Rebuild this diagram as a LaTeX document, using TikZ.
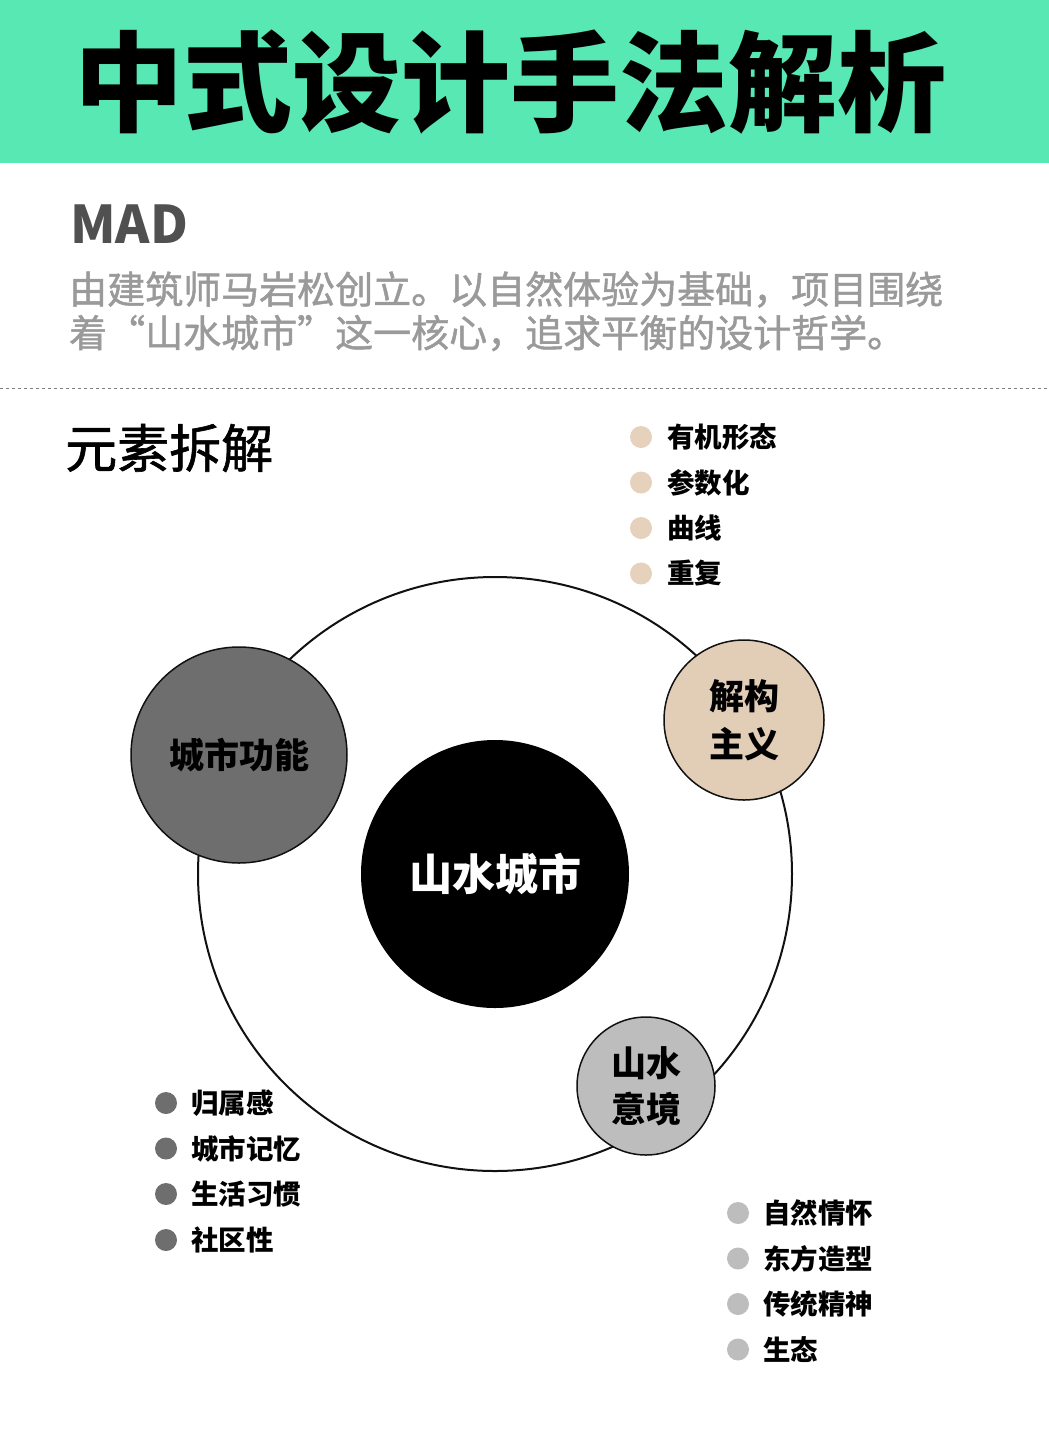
\documentclass[tikz,border=0pt]{standalone}
\usepackage{fontspec}
\setmainfont{Noto Sans CJK SC}
\newfontfamily\medfont[FakeBold=1.2]{Noto Sans CJK SC}
\definecolor{headgreen}{HTML}{58E8B4}
\definecolor{madgray}{HTML}{505050}
\definecolor{paragray}{HTML}{9A9A9A}
\definecolor{tanfill}{HTML}{E2CDB7}
\definecolor{tandot}{HTML}{E6D1BC}
\definecolor{darkfill}{HTML}{6E6E6E}
\definecolor{lightfill}{HTML}{BDBDBD}
\definecolor{ringcol}{HTML}{111111}
\begin{document}
\begin{tikzpicture}[x=1pt,y=-1pt,
  txt/.style={inner sep=0pt, anchor=west},
  bul/.style={txt, font=\fontsize{27.5}{27.5}\selectfont\bfseries, text=black},
  dotbase/.style={circle, inner sep=0pt, minimum size=22pt},
  bubble/.style={circle, draw=ringcol, line width=1.5pt, inner sep=0pt, align=center, font=\bfseries}
]
\path[use as bounding box] (0,0) rectangle (1049,1452);
\fill[white] (0,0) rectangle (1049,1452);
\fill[headgreen] (0,0) rectangle (1049,163);
\node[txt, font=\fontsize{109}{109}\selectfont\bfseries] (title) at (74,82) {中式设计手法解析};

\node[txt, font=\fontsize{52}{52}\selectfont\bfseries, text=madgray] (mad) at (70,224) {MAD};
\node[txt, font=\fontsize{38}{38}\selectfont\medfont, text=paragray] (para1) at (69,289.5) {由建筑师马岩松创立。以自然体验为基础，项目围绕};
\node[txt, font=\fontsize{38}{38}\selectfont\medfont, text=paragray] (para2) at (69,333) {着“山水城市”这一核心，追求平衡的设计哲学。};

\coordinate (dl) at (0,388);
\coordinate (dr) at (1049,388);
\draw[gray, line width=1pt, dash pattern=on 3pt off 3pt] (dl) -- (dr);

\node[txt, font=\fontsize{52}{52}\selectfont\medfont] (sect) at (65,448) {元素拆解};

% ring and bubbles
\node[circle, draw=ringcol, line width=2pt, minimum size=594pt, inner sep=0pt] (ring) at (495,874) {};
\node[circle, fill=black, minimum size=268pt, inner sep=0pt, text=white,
      font=\fontsize{43}{43}\selectfont\bfseries] (core) at (495,874) {山水城市};
\node[bubble, fill=darkfill, minimum size=216pt, font=\fontsize{35}{35}\selectfont\bfseries] (func) at (239,755) {城市功能};
\node[bubble, fill=tanfill, minimum size=160pt, font=\fontsize{35}{48}\selectfont\bfseries] (decon) at (744,720) {解构\\主义};
\node[bubble, fill=lightfill, minimum size=138pt, font=\fontsize{35}{46}\selectfont\bfseries] (mood) at (646,1086) {山水\\意境};

% top-right bullets
\foreach \i/\y/\t in {1/437/有机形态, 2/482.5/参数化, 3/528/曲线, 4/573.5/重复}{
  \node[dotbase, fill=tandot] (ta\i) at (641,\y) {};
  \node[bul] (tt\i) at (667,\y) {\t};
}
% bottom-left bullets
\foreach \i/\y/\t in {1/1103/归属感, 2/1148.5/城市记忆, 3/1194/生活习惯, 4/1240/社区性}{
  \node[dotbase, fill=darkfill] (la\i) at (166,\y) {};
  \node[bul] (lt\i) at (191,\y) {\t};
}
% bottom-right bullets
\foreach \i/\y/\t in {1/1213/自然情怀, 2/1258.5/东方造型, 3/1304/传统精神, 4/1349.5/生态}{
  \node[dotbase, fill=lightfill] (ra\i) at (738,\y) {};
  \node[bul] (rt\i) at (763,\y) {\t};
}
\end{tikzpicture}
\end{document}
